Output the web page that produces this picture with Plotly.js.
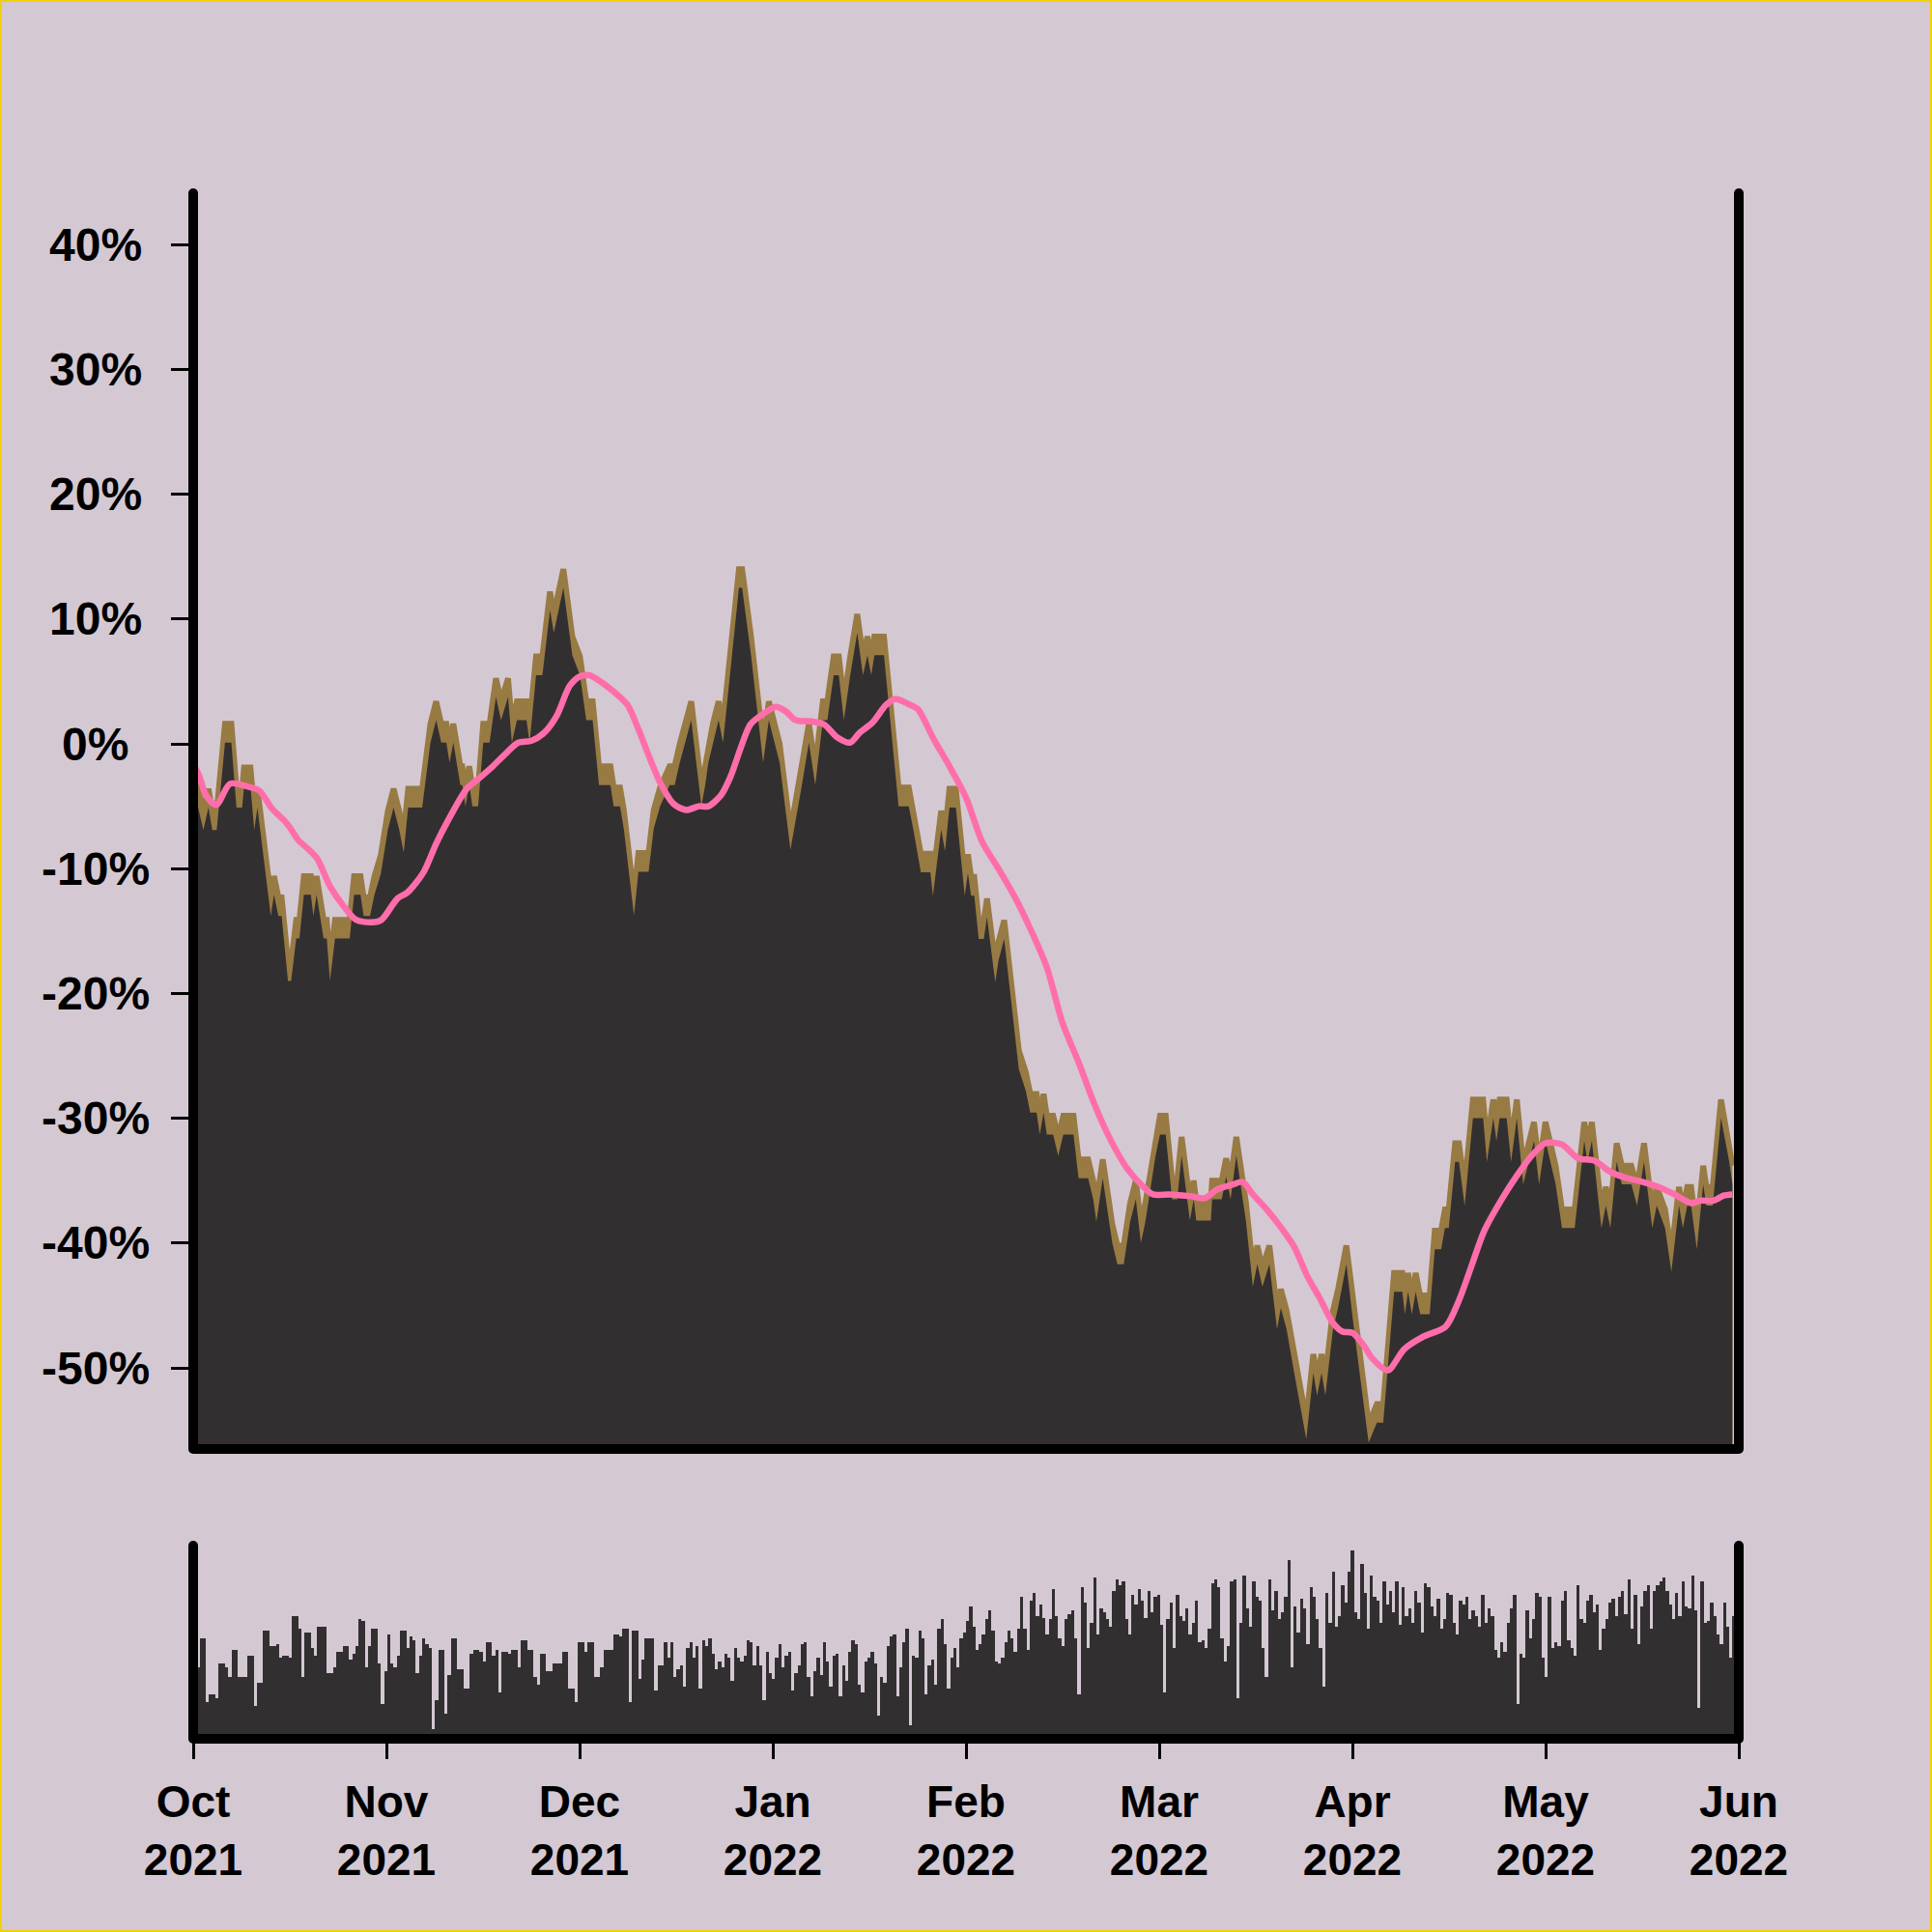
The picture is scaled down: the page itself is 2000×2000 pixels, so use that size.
<!DOCTYPE html>
<html>
<head>
<meta charset="utf-8">
<script src="https://cdn.plot.ly/plotly-3.0.1.min.js"></script>
<style>
html,body{margin:0;padding:0;background:#d4c9d3;}
#chart{width:2000px;height:2000px;}
#frame{position:absolute;left:0;top:0;width:2000px;height:2000px;box-sizing:border-box;border:2px solid #f3cf06;pointer-events:none;}
</style>
</head>
<body>
<div id="chart"></div>
<div id="frame"></div>
<script>
// ---- data (days since 1 Oct 2021; values in % change) ----
const priceDays = [
0,1.6,2.4,3.0,3.7,5.0,6.0,6.8,7.7,8.0,9.0,9.6,10.1,12.2,12.7,13.4,13.9,14.9,15.4,16.2,16.7,17.4,18.5,18.9,19.4,20.5,21.0,21.5,22.3,24.6,25.3,26.3,26.8,27.8,28.5,29.5,30.6,31.5,32.4,33.1,33.8,36.0,37.3,38.2,
39.0,39.8,40.3,40.9,42.0,42.3,42.8,43.4,43.9,44.8,45.6,46.6,47.6,48.4,49.5,50.1,50.9,52.4,52.9,53.9,54.9,56.1,56.7,57.4,58.2,59.6,60.8,61.8,62.8,63.8,65.6,66.1,67.1,67.7,69.3,70.0,71.6,72.4,73.4,74.9,75.7,76.5,77.4,
78.3,79.9,80.5,81.0,81.7,82.6,83.3,85.8,86.3,87.7,89.6,90.5,91.4,92.2,93.9,94.5,95.7,96.8,97.8,99.0,99.7,100.7,101.5,102.3,103.3,104.4,105.3,106.0,106.6,107.1,108.6,110.9,112.5,113.2,114.4,115.9,
116.3,117.6,118.2,118.9,119.9,121.3,121.8,122.3,122.8,123.5,124.3,124.8,126.1,126.6,127.5,129.8,130.9,131.6,132.6,133.1,133.7,134.2,135.2,136.0,136.8,138.4,139.2,140.7,141.5,142.0,143.0,144.5,145.3,146.3,147.3,148.2,149.0,149.7,151.3,152.0,152.9,
153.9,154.7,155.4,156.7,157.3,157.7,160.0,160.2,161.7,162.4,163.1,164.0,165.5,166.6,167.3,168.1,169.2,170.4,171.0,171.9,173.1,174.3,175.0,176.1,176.7,177.4,178.0,179.2,180.0,181.3,182.5,
184.8,186.1,187.1,188.8,190.1,190.5,191.0,191.6,192.2,192.9,194.4,195.2,196.2,196.8,197.4,198.4,199.0,199.9,201.2,202.8,203.4,204.4,204.9,205.4,206.5,207.2,208.1,209.1,210.8,211.6,212.6,214.2,215.2,217.2,218.7,219.2,219.9,221.4,222.1,222.8,223.8,224.6,226.1,227.0,228.1,229.4,230.1,231.4,232.4,233.6,234.2,234.9,235.5,236.4,237.4,237.9,238.9,240.2,241.5,242.0
];
const priceTop = [
-1.9,-5.4,-3.6,-5.4,-5.4,1.6,1.6,-3.6,-3.6,-1.9,-1.9,-5.4,-3.6,-12.3,-10.6,-12.3,-12.3,-17.5,-17.5,-14.1,-14.1,-10.6,-10.6,-12.3,-10.6,-14.1,-14.1,-17.5,-14.1,-14.1,-10.6,-10.6,-12.3,-12.3,-10.6,-8.9,-5.4,-3.6,-5.4,-7.2,-3.6,-3.6,1.6,3.4,
1.6,1.6,0.0,1.6,-1.8,-1.8,-3.5,-1.8,-3.5,-3.5,1.6,1.6,5.25,3.4,5.25,1.6,3.4,3.4,1.6,7.0,7.0,12.2,10.4,12.2,14.0,8.6,7.0,3.4,3.4,-1.8,-1.8,-3.5,-3.5,-5.3,-12.25,-8.75,-8.75,-5.3,-3.5,-1.8,-1.8,0.0,1.6,
3.4,-3.5,-1.8,0.0,1.6,3.4,1.6,14.0,14.0,8.6,0.0,3.4,1.6,0.0,-7.0,-5.3,-1.8,1.6,-1.8,3.4,3.4,7.0,7.0,3.4,7.0,10.4,7.0,8.6,7.0,8.6,8.6,-3.5,-3.5,-5.3,-8.8,-8.8,
-10.66,-5.36,-7.1,-3.6,-3.6,-10.66,-8.86,-10.66,-10.66,-14.14,-14.14,-12.4,-17.6,-15.9,-14.14,-24.56,-26.3,-28.05,-28.05,-29.8,-28.05,-29.8,-29.8,-31.5,-29.8,-29.8,-33.3,-33.3,-35.0,-36.8,-33.3,-38.5,-40.2,-40.2,-36.8,-35.0,-38.5,-36.8,-31.5,-29.8,-29.8,
-35.0,-35.0,-31.5,-36.7,-35.0,-36.7,-36.7,-35.0,-35.0,-33.2,-35.0,-31.5,-36.7,-42.0,-40.2,-42.0,-40.2,-45.4,-43.7,-45.4,-48.9,-52.4,-54.2,-48.9,-50.7,-48.9,-50.7,-45.4,-43.7,-40.2,-45.4,
-54.5,-52.9,-52.9,-42.4,-42.4,-44.2,-42.4,-44.2,-42.4,-44.2,-44.2,-39.0,-39.0,-37.3,-37.3,-32.0,-32.0,-35.5,-28.5,-28.5,-32.0,-28.5,-30.3,-28.5,-28.5,-32.0,-28.5,-33.8,-30.3,-33.8,-30.3,-33.8,-37.3,-37.3,-30.3,-32.0,-30.3,-37.3,-35.5,-37.3,-32.0,-33.8,-33.8,-35.5,-32.0,-37.3,-35.5,-37.3,-40.8,-35.5,-37.3,-35.5,-35.5,-39.0,-33.8,-35.5,-35.5,-28.5,-32.0,-33.8
];
const maDays = [
0,0.9,2.0,3.6,5.8,8.4,10.4,12.4,14.4,15.2,16.5,18.0,19.5,21.5,23.5,25.6,28.1,29.6,32.1,33.7,36.2,38.2,40.0,43.0,45.1,47.1,49.1,51.1,53.2,55.2,57.2,59.2,60.8,62.3,64.3,66.3,68.3,69.9,71.9,73.4,75.5,77.5,79.5,81.0,83.0,84.5,86.1,87.6,89.6,91.6,93.2,94.7,97.2,99.2,101.3,103.3,104.8,106.8,108.9,110.4,112.4,113.9,116.4,118.9,121.5,124.0,126.6,129.1,131.6,134.2,136.7,139.2,141.8,144.3,146.8,149.4,150.9,153.4,156.9,159.0,161.0,163.5,165.0,166.6,168.6,171.1,173.1,175.1,177.1,179.2,180.7,182.3,184.3,185.3,187.8,190.4,193.4,196.9,199.0,201.0,203.0,205.6,208.1,210.6,212.6,215.2,217.7,220.3,222.8,224.8,227.9,230.4,232.9,235.5,237.0,239.0,240.6,242.0
];
const maValues = [
-1.6,-2.5,-4.1,-4.9,-3.2,-3.4,-3.75,-5.2,-6.2,-6.7,-7.7,-8.4,-9.2,-11.4,-12.9,-14.1,-14.3,-14.1,-12.4,-11.9,-10.3,-8.0,-6.2,-3.6,-2.7,-1.8,-0.8,0.1,0.25,0.9,2.3,4.65,5.4,5.5,4.9,4.1,3.1,1.3,-1.3,-3.1,-4.8,-5.3,-5.0,-5.0,-4.1,-2.6,-0.3,1.55,2.4,2.97,2.6,1.9,1.8,1.55,0.5,0.1,0.9,1.7,3.1,3.6,3.2,2.8,0.4,-1.8,-4.3,-7.8,-10.0,-12.2,-14.8,-17.9,-22.4,-25.5,-29.0,-31.8,-34.0,-35.5,-36.1,-36.1,-36.25,-36.4,-35.7,-35.3,-35.1,-36.1,-37.2,-38.8,-40.3,-42.6,-44.4,-46.4,-47.1,-47.2,-48.4,-49.2,-50.2,-48.5,-47.5,-46.7,-44.6,-41.8,-39.0,-36.6,-34.6,-32.9,-32.0,-32.1,-33.2,-33.4,-34.3,-34.7,-35.1,-35.5,-36.1,-36.8,-36.6,-36.6,-36.2,-36.1
];
// volume, one value per 12 hours (relative units)
const volume = [
35,35,50,50,17,21,21,19,37,37, 35,30,44,44,30,30,30,41,41,15, 27,27,54,54,46,46,47,40,41,41,
40,62,62,55,30,53,53,45,41,56, 56,56,32,32,35,43,43,46,46,39, 42,46,60,59,35,46,55,55,37,16,
33,52,37,35,41,54,54,45,51,49, 32,41,50,47,45,3,18,44,44,11, 31,50,50,34,34,24,24,42,44,44,
43,38,48,48,41,44,22,43,43,42, 44,44,35,49,49,44,44,30,26,42, 42,33,33,37,37,37,43,43,24,24,
17,48,48,43,48,48,30,30,35,44, 44,44,52,52,51,55,55,17,54,54, 29,39,50,50,50,23,36,36,48,40,
48,30,34,36,25,45,48,40,46,24,
49,46,50,42,34,38,35,42,40,28, 45,40,38,41,49,48,36,46,36,18,
43,32,29,40,47,35,41,43,23,32, 36,47,48,30,20,33,40,31,48,38,
25,41,42,20,36,28,43,49,47,26, 22,38,40,43,37,10,30,27,46,51,
52,20,35,48,55,5,41,40,54,50, 21,36,39,26,55,60,47,24,40,45,
35,50,53,59,67,56,44,47,52,60, 65,54,38,37,40,48,54,50,43,55,
72,55,44,70,74,62,68,61,52,60, 76,62,50,46,60,63,65,50,21,77,
69,45,58,82,52,66,64,60,56,75, 81,78,80,60,52,73,68,76,70,61,
75,64,72,73,57,22,60,69,45,73, 62,59,66,52,58,70,48,49,45,55,
79,81,77,50,38,46,80,81,19,58, 83,66,56,80,72,70,45,30,81,65,
75,60,64,72,91,35,67,53,71,66, 47,77,72,60,45,25,74,58,85,56,
62,78,69,85,96,64,60,89,74,55, 83,72,70,58,80,68,75,64,80,57,
77,62,66,58,75,69,53,79,77,67, 62,71,55,60,74,73,58,52,70,68,
72,60,65,62,56,73,58,66,62,44, 40,48,43,58,66,73,16,42,40,65,
50,60,74,72,40,30,72,45,48,46, 70,75,49,45,41,78,60,58,70,73,
64,68,44,55,60,69,71,62,72,75, 63,81,55,73,47,67,75,78,55,75,
78,80,82,75,68,60,74,62,80,67, 66,83,65,14,80,58,59,69,62,52,
47,69,56,40,62,58
];
const yTickVals = [-50,-40,-30,-20,-10,0,10,20,30,40];
const yTickText = ["-50%","-40%","-30%","-20%","-10%","0%","10%","20%","30%","40%"];
const monthLabels = ["Oct<br>2021","Nov<br>2021","Dec<br>2021","Jan<br>2022","Feb<br>2022","Mar<br>2022","Apr<br>2022","May<br>2022","Jun<br>2022"];

// ---- style ----
const XMAX = 243;
const BAND = 1.5;
const BG = '#d4c9d3', DARK = '#322f31', BROWN = '#987a43', PINK = '#ff6eaa';
const FONT_FAMILY = '"Liberation Sans", Arial, sans-serif';
const XFONT = {family: FONT_FAMILY, size: 46, color: '#000', weight: 'bold'};
const YFONT = {family: FONT_FAMILY, size: 48, color: '#000', weight: 'bold'};
const YLABEL_X = -0.0632;   // centre of the y tick labels, in paper units

const priceLow = priceTop.map(v => v - BAND);
const volX = volume.map((_, i) => i * 0.5 + 0.25);
const monthPos = monthLabels.map((_, i) => i * XMAX / (monthLabels.length - 1));
const baseX = [priceDays[0], priceDays[priceDays.length - 1]];

const traces = [
  {x: baseX, y: [-80, -80], mode: 'lines', line: {width: 0}, hoverinfo: 'skip', xaxis: 'x', yaxis: 'y'},
  {x: priceDays, y: priceTop, mode: 'lines', line: {width: 6, color: BROWN}, fill: 'tonexty', fillcolor: BROWN, hoverinfo: 'skip', xaxis: 'x', yaxis: 'y'},
  {x: baseX, y: [-80, -80], mode: 'lines', line: {width: 0}, hoverinfo: 'skip', xaxis: 'x', yaxis: 'y'},
  {x: priceDays, y: priceLow, mode: 'lines', line: {width: 0}, fill: 'tonexty', fillcolor: DARK, hoverinfo: 'skip', xaxis: 'x', yaxis: 'y'},
  {x: maDays, y: maValues, mode: 'lines', line: {color: PINK, width: 6.5, shape: 'spline', smoothing: 0.8}, hoverinfo: 'skip', xaxis: 'x', yaxis: 'y'},
  {type: 'bar', x: volX, y: volume, width: 0.5, marker: {color: DARK, line: {width: 0}}, hoverinfo: 'skip', xaxis: 'x2', yaxis: 'y2'}
];

const MAIN_BOT = 0.1875, VOL_TOP = 0.125;
function vline(x, y0, y1) { return {type:'line', xref:'paper', yref:'paper', x0:x, x1:x, y0:y0, y1:y1, line:{color:'#000', width:10}, layer:'above'}; }
function hline(y) { return {type:'line', xref:'paper', yref:'paper', x0:0, x1:1, y0:y, y1:y, line:{color:'#000', width:10}, layer:'above'}; }
function dot(x, y) { return {type:'circle', xref:'paper', yref:'paper', xsizemode:'pixel', ysizemode:'pixel', xanchor:x, yanchor:y, x0:-5, x1:5, y0:-5, y1:5, fillcolor:'#000', line:{width:0}, layer:'above'}; }
const shapes = [
  vline(0, MAIN_BOT, 1), vline(1, MAIN_BOT, 1), hline(MAIN_BOT),
  vline(0, 0, VOL_TOP), vline(1, 0, VOL_TOP), hline(0),
  dot(0, 1), dot(1, 1), dot(0, MAIN_BOT), dot(1, MAIN_BOT),
  dot(0, VOL_TOP), dot(1, VOL_TOP), dot(0, 0), dot(1, 0)
];

// centred y tick labels
const annotations = yTickVals.map((v, i) => ({
  xref: 'paper', yref: 'y', x: YLABEL_X, y: v, text: yTickText[i], showarrow: false,
  xanchor: 'center', yanchor: 'middle', font: YFONT
}));

const layout = {
  width: 2000, height: 2000,
  paper_bgcolor: BG, plot_bgcolor: BG,
  margin: {l: 200, r: 200, t: 200, b: 200, pad: 0},
  showlegend: false,
  bargap: 0,
  xaxis: {domain: [0, 1], range: [0, XMAX], anchor: 'y', showticklabels: false, ticks: '', showgrid: false, zeroline: false, showline: false},
  yaxis: {domain: [MAIN_BOT, 1], range: [-56.5, 44.12], anchor: 'x', tickmode: 'array', tickvals: yTickVals, showticklabels: false,
          ticks: 'outside', ticklen: 22, tickwidth: 3, tickcolor: '#000', showgrid: false, zeroline: false, showline: false},
  xaxis2: {domain: [0, 1], range: [0, XMAX], anchor: 'y2', tickmode: 'array', tickvals: monthPos, ticktext: monthLabels,
           ticks: 'outside', ticklen: 20, tickwidth: 3, tickcolor: '#000', tickfont: XFONT, ticklabelstandoff: 5,
           showgrid: false, zeroline: false, showline: false},
  yaxis2: {domain: [0, VOL_TOP], range: [-2, 98.4], anchor: 'x2', showticklabels: false, ticks: '', showgrid: false, zeroline: false, showline: false},
  shapes: shapes,
  annotations: annotations
};

Plotly.newPlot('chart', traces, layout, {staticPlot: true, displayModeBar: false});
</script>
</body>
</html>
